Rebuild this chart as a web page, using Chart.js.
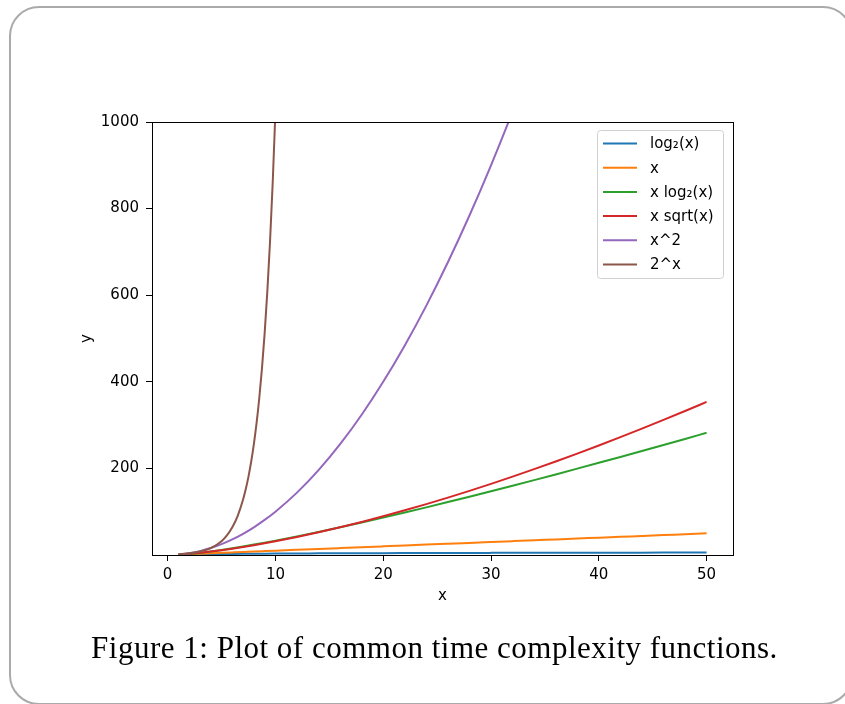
<!DOCTYPE html>
<html>
<head>
<meta charset="utf-8">
<script src="https://cdn.jsdelivr.net/npm/chart.js@4.4.1/dist/chart.umd.min.js"></script>
<style>
  html, body { margin: 0; padding: 0; background: #fff; }
  body { width: 845px; height: 704px; position: relative; overflow: hidden; }
  #frame {
    position: absolute; left: 9px; top: 6px; width: 840px; height: 695px;
    border: 2px solid #aaa; border-radius: 30px;
  }
  #plot { position: absolute; left: 0; top: 0; }
  #caption {
    position: absolute; left: 0; width: 869px; top: 630px;
    text-align: center; font-family: "Liberation Serif", serif; font-size: 31px;
    letter-spacing: 0.5px; color: #000;
  }
</style>
</head>
<body>
<div id="frame"></div>
<canvas id="plot" width="845" height="704"></canvas>
<div id="caption">Figure 1: Plot of common time complexity functions.</div>
<script>
// x positions shared by most curves
const xs = [1, 2, 3, 4, 5, 6, 7, 8, 9, 10, 12, 14, 16, 18, 20, 22, 24, 26, 28, 30,
            32, 34, 36, 38, 40, 42, 44, 46, 48, 50];

const logVals = [0, 1, 1.58, 2, 2.32, 2.58, 2.81, 3, 3.17, 3.32, 3.58, 3.81, 4, 4.17, 4.32,
                 4.46, 4.58, 4.70, 4.81, 4.91, 5, 5.09, 5.17, 5.25, 5.32, 5.39, 5.46, 5.52, 5.58, 5.64];
const linVals = [1, 2, 3, 4, 5, 6, 7, 8, 9, 10, 12, 14, 16, 18, 20, 22, 24, 26, 28, 30,
                 32, 34, 36, 38, 40, 42, 44, 46, 48, 50];
const nlogVals = [0, 2, 4.75, 8, 11.61, 15.51, 19.65, 24, 28.53, 33.22, 43.02, 53.30, 64, 75.06, 86.44,
                  98.11, 110.04, 122.21, 134.61, 147.21, 160, 172.97, 186.12, 199.42, 212.88,
                  226.48, 240.21, 254.09, 268.08, 282.19];
const nsqrtVals = [1, 2.83, 5.20, 8, 11.18, 14.70, 18.52, 22.63, 27, 31.62, 41.57, 52.38, 64, 76.37, 89.44,
                   103.19, 117.58, 132.57, 148.16, 164.32, 181.02, 198.25, 216, 234.25, 252.98,
                   272.19, 291.86, 311.99, 332.55, 353.55];
const sqVals = [1, 4, 9, 16, 25, 36, 49, 64, 81, 100, 144, 196, 256, 324, 400, 484, 576, 676, 784, 900,
                1024, 1156, 1296, 1444, 1600, 1764, 1936, 2116, 2304, 2500];

// 2^x rises fast, so it gets its own, denser x positions
const expXs = [1, 2, 3, 4, 5, 5.5, 6, 6.5, 7, 7.25, 7.5, 7.75, 8, 8.25, 8.5, 8.75, 9, 9.25, 9.5, 9.75, 10, 10.25];
const expVals = [2, 4, 8, 16, 32, 45.25, 64, 90.51, 128, 152.22, 181.02, 215.27, 256, 304.44, 362.04,
                 430.54, 512, 608.87, 724.08, 861.08, 1024, 1217.75];

const labels = ['log\u2082(x)', 'x', 'x log\u2082(x)', 'x sqrt(x)', 'x^2', '2^x'];
const colors = ['#1f77b4', '#ff7f0e', '#2ca02c', '#d62728', '#9467bd', '#8c564b'];
const xTicks = [0, 10, 20, 30, 40, 50];
const yTicks = [200, 400, 600, 800, 1000];

const series = [
  [xs, logVals], [xs, linVals], [xs, nlogVals], [xs, nsqrtVals], [xs, sqVals], [expXs, expVals]
];

const datasets = series.map(([px, py], i) => ({
  label: labels[i],
  data: px.map((x, j) => ({ x: x, y: py[j] })),
  borderColor: colors[i],
  borderWidth: 2,
  pointRadius: 0,
  cubicInterpolationMode: 'monotone',
  fill: false,
  order: series.length - i   // later curves sit on top
}));

const FONT = 'DejaVu Sans';

// axes box + boxed legend in the upper right
const framePlugin = {
  id: 'frameAndLegend',
  afterDraw(chart) {
    const { ctx, chartArea: a } = chart;
    ctx.save();
    ctx.strokeStyle = '#000';
    ctx.lineWidth = 1;
    ctx.strokeRect(Math.round(a.left) + 0.5, Math.round(a.top) + 0.5,
                   Math.round(a.right - a.left), Math.round(a.bottom - a.top));

    const bx = 597.5, by = 130.5, bw = 126, bh = 148, r = 3;
    ctx.beginPath();
    ctx.roundRect(bx, by, bw, bh, r);
    ctx.fillStyle = 'rgba(255,255,255,0.8)';
    ctx.fill();
    ctx.strokeStyle = '#d0d0d0';
    ctx.stroke();

    ctx.font = '15px "' + FONT + '"';
    ctx.textBaseline = 'middle';
    ctx.fillStyle = '#000';
    chart.data.datasets.forEach((ds, i) => {
      const y = 143.5 + i * 24.2;
      ctx.beginPath();
      ctx.moveTo(603, y);
      ctx.lineTo(637, y);
      ctx.strokeStyle = ds.borderColor;
      ctx.lineWidth = 2;
      ctx.stroke();
      ctx.fillText(ds.label, 650, y + 1);
    });
    ctx.restore();
  }
};

new Chart(document.getElementById('plot'), {
  type: 'line',
  data: { datasets: datasets },
  plugins: [framePlugin],
  options: {
    responsive: false,
    animation: false,
    devicePixelRatio: 1,
    layout: { padding: { left: 74, top: 122, right: 112, bottom: 95 } },
    plugins: { legend: { display: false }, tooltip: { enabled: false } },
    scales: {
      x: {
        type: 'linear',
        min: -1.45,
        max: 52.45,
        afterFit: s => { s.height = 54; },
        afterBuildTicks: s => { s.ticks = xTicks.map(v => ({ value: v })); },
        grid: { drawOnChartArea: false, tickLength: 6, color: '#000', tickColor: '#000' },
        border: { display: false },
        ticks: { color: '#000', padding: 5, maxRotation: 0, font: { family: FONT, size: 15 },
                 callback: v => String(v) },
        title: { display: true, text: 'x', color: '#000', font: { family: FONT, size: 15 } }
      },
      y: {
        type: 'linear',
        min: 0,
        max: 1000,
        afterFit: s => { s.width = 78; },
        afterBuildTicks: s => { s.ticks = yTicks.map(v => ({ value: v })); },
        grid: { drawOnChartArea: false, tickLength: 6, color: '#000', tickColor: '#000' },
        border: { display: false },
        ticks: { color: '#000', padding: 7, font: { family: FONT, size: 15 },
                 callback: v => String(v) },
        title: { display: true, text: 'y', color: '#000', font: { family: FONT, size: 15 } }
      }
    }
  }
});
</script>
</body>
</html>
